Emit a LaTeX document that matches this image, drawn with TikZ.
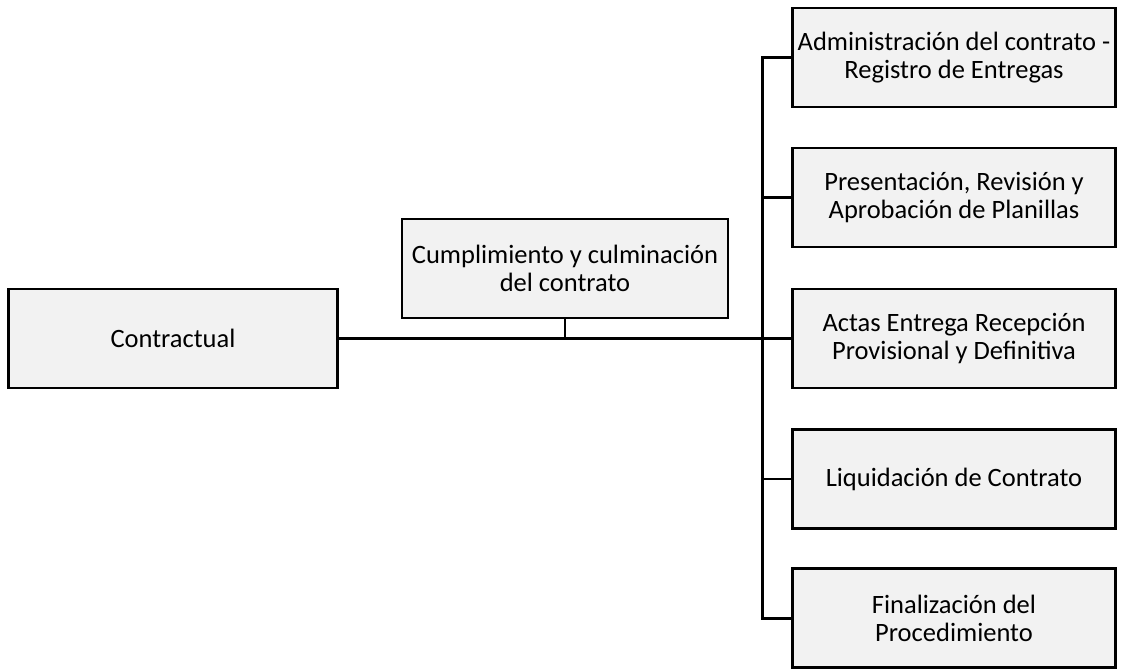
\documentclass[tikz,border=0pt]{standalone}
\usepackage{fontspec}
\setmainfont{Carlito}
\definecolor{boxfill}{HTML}{F2F2F2}
\begin{document}
\begin{tikzpicture}[x=1pt,y=-1pt,
  box/.style={draw=black,line width=2.2pt,fill=boxfill,align=center,inner sep=0pt,
    font=\fontsize{26.5}{28}\selectfont},
  conn/.style={line width=3pt}]
\useasboundingbox (0,0) rectangle (1121,670);
\node[box,minimum width=329,minimum height=99] (contr) at (173,338.5) {Contractual};
\node[box,minimum width=326,minimum height=99] (cump) at (565,268.5) {Cumplimiento y culminación\\del contrato};
\node[box,minimum width=323,minimum height=99] (b1) at (954,57.5) {Administración del contrato -\\Registro de Entregas};
\node[box,minimum width=323,minimum height=99] (b2) at (954,197.5) {Presentación, Revisión y\\Aprobación de Planillas};
\node[box,minimum width=323,minimum height=99] (b3) at (954,338.5) {Actas Entrega Recepción\\Provisional y Definitiva};
\node[box,minimum width=323,minimum height=99] (b4) at (954,479) {Liquidación de Contrato};
\node[box,minimum width=323,minimum height=99] (b5) at (954,618) {Finalización del\\Procedimiento};
\coordinate (jx) at (762,338.5);
\draw[conn] (contr.east) -- (b3.west);
\draw[line width=2.2pt] (cump.south) -- (cump.south |- contr.east);
\draw[conn] (b1.west) -| (jx) |- (b5.west);
\draw[line width=2.2pt] (b2.west) -- (jx |- b2.west);
\draw[line width=2.2pt] (b4.west) -- (jx |- b4.west);
\end{tikzpicture}
\end{document}
